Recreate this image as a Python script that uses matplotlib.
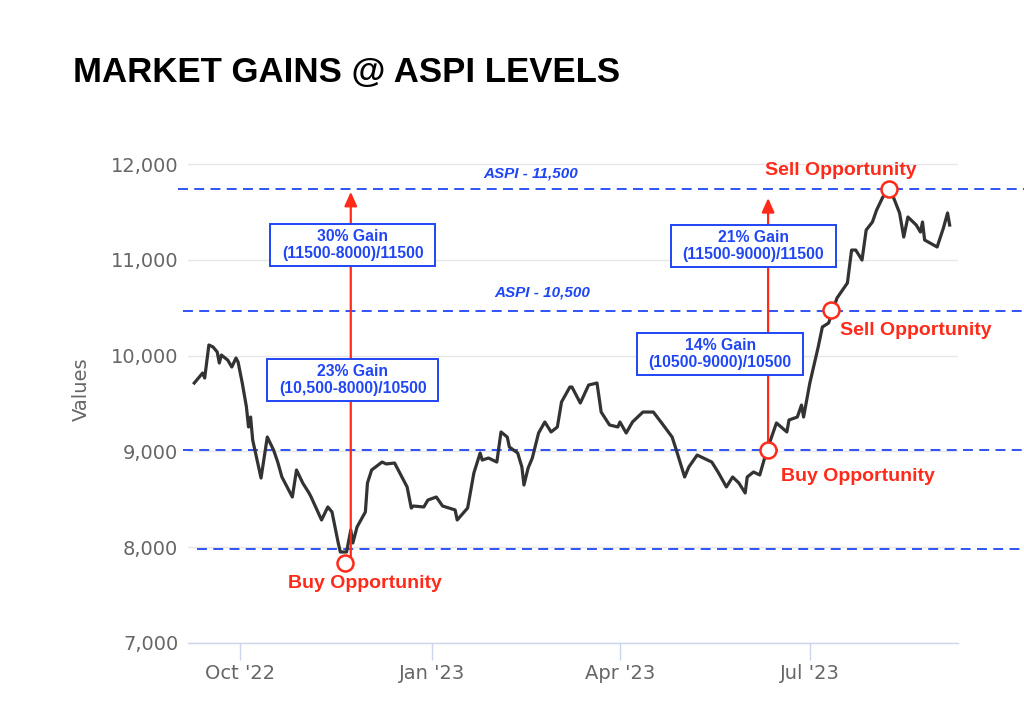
import matplotlib

matplotlib.use("Agg")
import matplotlib.dates as mdates
import matplotlib.pyplot as plt
import pandas as pd
from matplotlib.path import Path
from matplotlib.ticker import FuncFormatter

# ASPI closing levels
dates = [
    "2022-09-09", "2022-09-13", "2022-09-14", "2022-09-16", "2022-09-18", "2022-09-20",
    "2022-09-21", "2022-09-22", "2022-09-25", "2022-09-27", "2022-09-29", "2022-09-30",
    "2022-10-02", "2022-10-04", "2022-10-05", "2022-10-06", "2022-10-07", "2022-10-11",
    "2022-10-14", "2022-10-17", "2022-10-19", "2022-10-21", "2022-10-26", "2022-10-28",
    "2022-10-31", "2022-11-03", "2022-11-04", "2022-11-09", "2022-11-12", "2022-11-14",
    "2022-11-17", "2022-11-18", "2022-11-21", "2022-11-23", "2022-11-24", "2022-11-26",
    "2022-11-30", "2022-12-01", "2022-12-03", "2022-12-08", "2022-12-10", "2022-12-14",
    "2022-12-15", "2022-12-20", "2022-12-22", "2022-12-23", "2022-12-28", "2022-12-30",
    "2023-01-03", "2023-01-06", "2023-01-12", "2023-01-13", "2023-01-18", "2023-01-21",
    "2023-01-24", "2023-01-25", "2023-01-28", "2023-02-01", "2023-02-03", "2023-02-06",
    "2023-02-07", "2023-02-11", "2023-02-13", "2023-02-14", "2023-02-16", "2023-02-18",
    "2023-02-21", "2023-02-24", "2023-02-27", "2023-03-02", "2023-03-04", "2023-03-08",
    "2023-03-09", "2023-03-13", "2023-03-17", "2023-03-21", "2023-03-23", "2023-03-27",
    "2023-03-31", "2023-04-01", "2023-04-04", "2023-04-07", "2023-04-12", "2023-04-17",
    "2023-04-21", "2023-04-26", "2023-04-28", "2023-05-02", "2023-05-04", "2023-05-08",
    "2023-05-11", "2023-05-15", "2023-05-18", "2023-05-22", "2023-05-25", "2023-05-28",
    "2023-05-31", "2023-06-01", "2023-06-04", "2023-06-07", "2023-06-10", "2023-06-15",
    "2023-06-20", "2023-06-21", "2023-06-25", "2023-06-27", "2023-06-28", "2023-07-01",
    "2023-07-05", "2023-07-07", "2023-07-10", "2023-07-14", "2023-07-19", "2023-07-21",
    "2023-07-23", "2023-07-26", "2023-07-28", "2023-07-31", "2023-08-02", "2023-08-05",
    "2023-08-07", "2023-08-10", "2023-08-13", "2023-08-15", "2023-08-17", "2023-08-21",
    "2023-08-23", "2023-08-24", "2023-08-25", "2023-08-31", "2023-09-03", "2023-09-05",
    "2023-09-06",
]
values = [
    9714, 9818, 9766, 10111, 10090, 10038, 9923, 10006, 9954, 9881, 9975, 9933,
    9714, 9464, 9255, 9359, 9119, 8722, 9150, 9015, 8889, 8733, 8524, 8806,
    8670, 8566, 8524, 8284, 8420, 8368, 8044, 7950, 7950, 8180, 8044, 8211,
    8368, 8670, 8806, 8889, 8869, 8879, 8837, 8629, 8409, 8430, 8420, 8493,
    8524, 8430, 8389, 8284, 8409, 8775, 8983, 8910, 8931, 8889, 9203, 9150,
    9046, 8983, 8837, 8649, 8827, 8931, 9192, 9307, 9203, 9255, 9516, 9672,
    9672, 9505, 9693, 9714, 9411, 9276, 9255, 9307, 9192, 9307, 9411, 9411,
    9297, 9150, 9015, 8733, 8837, 8962, 8931, 8889, 8785, 8629, 8733, 8670,
    8566, 8733, 8785, 8754, 8983, 9297, 9203, 9328, 9359, 9484, 9359, 9714,
    10090, 10299, 10340, 10601, 10758, 11102, 11102, 10998, 11311, 11395, 11520, 11656,
    11697, 11656, 11489, 11238, 11447, 11363, 11290, 11395, 11207, 11134, 11332, 11489,
    11363,
]

# dashed reference levels (as drawn) and where each dash line starts left of the axes
level_values = [11740, 10470, 9010, 7980]
level_starts = [-0.013, -0.006, -0.006, 0.012]
level_labels = ["ASPI - 11,500", "ASPI - 10,500"]
level_label_dates = ["2023-02-17", "2023-02-23"]
level_label_values = [11906, 10654]

# buy / sell points
point_dates = ["2022-11-20", "2023-06-11", "2023-07-11", "2023-08-08"]
point_values = [7835, 9010, 10476, 11739]
point_labels = ["Buy Opportunity", "Buy Opportunity", "Sell Opportunity", "Sell Opportunity"]
point_label_dates = ["2022-11-30", "2023-07-24", "2023-08-21", "2023-07-16"]
point_label_values = [7616, 8743, 10267, 11937]

# gain arrows
arrow_dates = ["2022-11-23", "2023-06-11"]
arrow_from = [7835, 9010]
arrow_to = [11710, 11645]

# gain boxes
box_texts = [
    "30% Gain\n(11500-8000)/11500",
    "23% Gain\n(10,500-8000)/10500",
    "21% Gain\n(11500-9000)/11500",
    "14% Gain\n(10500-9000)/10500",
]
box_dates = ["2022-11-24", "2022-11-24", "2023-06-04", "2023-05-19"]
box_values = [11155, 9745, 11144, 10017]

LINE = "#333333"
BLUE = "#1f45f5"
RED = "#ff2a1a"
GRAY = "#666666"
AXIS = "#ccd6eb"
BOLD = ["Liberation Sans", "DejaVu Sans"]


def wide_box(x0, y0, width, height, mutation_size):
    hx = mutation_size * 0.75
    hy = mutation_size * 0.3
    x0, y0 = x0 - hx, y0 - hy
    x1, y1 = x0 + width + 2 * hx, y0 + height + 2 * hy
    return Path([(x0, y0), (x1, y0), (x1, y1), (x0, y1), (x0, y0)], closed=True)


def ts(s):
    return pd.Timestamp(s)


fig = plt.figure(figsize=(10.24, 7.17), dpi=100)
ax = fig.add_axes([188 / 1024, 74 / 717, 770 / 1024, 0.7081])

ax.plot(pd.to_datetime(dates), values, color=LINE, lw=2.3, zorder=4, solid_joinstyle="round")

for lv, x0 in zip(level_values, level_starts):
    ax.axhline(lv, xmin=x0, xmax=1.09, color=BLUE, lw=1.3, dashes=(5.5, 3.5), clip_on=False, zorder=3)
for text, d, v in zip(level_labels, level_label_dates, level_label_values):
    ax.text(ts(d), v, text, color=BLUE, fontsize=11, fontweight="bold", fontstyle="italic",
            family=BOLD, ha="center", va="center")

for d, y0, y1 in zip(arrow_dates, arrow_from, arrow_to):
    ax.annotate("", xy=(ts(d), y1), xytext=(ts(d), y0),
                arrowprops=dict(arrowstyle="-|>,head_length=0.85,head_width=0.38", color=RED,
                                lw=1.6, shrinkA=0, shrinkB=0, mutation_scale=10),
                zorder=5)

for text, d, v in zip(box_texts, box_dates, box_values):
    ax.text(ts(d), v, text, color=BLUE, fontsize=11.3, fontweight="bold", family=BOLD,
            ha="center", va="center", multialignment="center", linespacing=1.15, zorder=6,
            bbox=dict(boxstyle=wide_box, facecolor="white", edgecolor=BLUE, lw=1.4))

ax.plot(pd.to_datetime(point_dates), point_values, "o", ms=11.5, mfc="white", mec=RED, mew=1.8,
        zorder=7, clip_on=False)
for text, d, v in zip(point_labels, point_label_dates, point_label_values):
    ax.text(ts(d), v, text, color=RED, fontsize=14, fontweight="bold", family=BOLD,
            ha="center", va="center", zorder=8)

ax.set_xlim(ts("2022-09-06"), ts("2023-09-10"))
ax.set_ylim(7000, 12300)
ax.set_yticks(range(7000, 12001, 1000))
ax.yaxis.set_major_formatter(FuncFormatter(lambda v, _: f"{int(v):,}"))
ax.xaxis.set_major_locator(mdates.MonthLocator(bymonth=[1, 4, 7, 10]))
ax.xaxis.set_major_formatter(mdates.DateFormatter("%b '%y"))

ax.grid(axis="y", color="#e6e6e6", lw=1)
ax.set_axisbelow(True)
for side in ["top", "right", "left"]:
    ax.spines[side].set_visible(False)
ax.spines["bottom"].set_color(AXIS)
ax.spines["bottom"].set_linewidth(1)
ax.tick_params(axis="y", length=0, pad=7, labelsize=14, labelcolor=GRAY)
ax.tick_params(axis="x", length=12, width=1, color=AXIS, pad=3, labelsize=14, labelcolor=GRAY)
ax.set_ylabel("Values", fontsize=14, color=GRAY, labelpad=14)

fig.text(73 / 1024, 1 - 82 / 717, "MARKET GAINS @ ASPI LEVELS", fontsize=25, fontweight="bold",
         family=BOLD, color="black", ha="left", va="baseline")

fig.savefig("out.png", dpi=100, facecolor="white")
